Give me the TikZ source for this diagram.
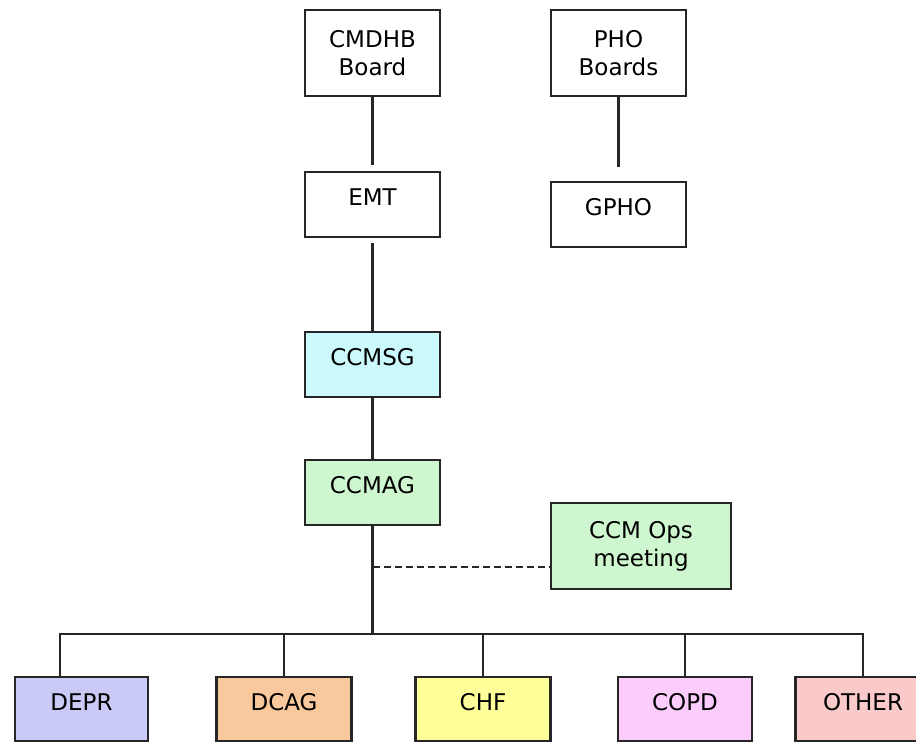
\documentclass[tikz,border=0pt]{standalone}
\usepackage{fontspec}
\setmainfont{DejaVu Sans}
\definecolor{cmsg}{HTML}{CCFAFC}
\definecolor{cmag}{HTML}{CFF7CF}
\definecolor{cdepr}{HTML}{CACAF7}
\definecolor{cdcag}{HTML}{F9C89C}
\definecolor{cchf}{HTML}{FFFF99}
\definecolor{ccopd}{HTML}{FCCCFC}
\definecolor{cother}{HTML}{FACACA}
\tikzset{
  box/.style={draw=black!85, line width=1.1pt, rectangle, inner sep=0pt,
    minimum width=67.5pt, minimum height=32.5pt, align=center,
    font=\fontsize{11.5pt}{14pt}\selectfont},
  one/.style={text height=8.4pt, text depth=7.2pt},
  tall/.style={minimum height=43pt},
  conn/.style={draw=black!85, line width=1.1pt},
}
\begin{document}
\begin{tikzpicture}[x=0.5pt,y=-0.5pt]
\useasboundingbox (0,0) rectangle (916,742);
\begin{scope}
\clip (0,0) rectangle (916,742);
% top row
\node[box,tall] (cmdhb) at (372.5,53) {CMDHB\\Board};
\node[box,tall] (pho) at (618.5,53) {PHO\\Boards};
\node[box,one] (emt) at (372.5,204.5) {EMT};
\node[box,one] (gpho) at (618.5,214.5) {GPHO};
\node[box,one,fill=cmsg] (ccmsg) at (372.5,364.5) {CCMSG};
\node[box,one,fill=cmag] (ccmag) at (372.5,492.5) {CCMAG};
\node[box,tall,minimum width=90pt,fill=cmag] (ops) at (641,546) {CCM Ops\\meeting};
% bottom row
\node[box,one,minimum width=66.5pt,minimum height=32pt,fill=cdepr] (depr) at (81.5,709) {DEPR};
\node[box,one,minimum height=32pt,fill=cdcag] (dcag) at (284,709) {DCAG};
\node[box,one,minimum height=32pt,fill=cchf] (chf) at (483,709) {CHF};
\node[box,one,minimum width=67pt,minimum height=32pt,fill=ccopd] (copd) at (685,709) {COPD};
\node[box,one,minimum height=32pt,fill=cother] (other) at (863,709) {OTHER};
% coordinates
\coordinate (cmdhbend) at (372.5,165);
\coordinate (phoend) at (618.5,167);
\coordinate (emtstart) at (372.5,243);
\coordinate (dash) at (372.5,567);
\coordinate (bus) at (372.5,634);
\coordinate (busL) at (60,634);
\coordinate (busR) at (863,634);
\coordinate (deprtop) at (60,677);
% connectors
\draw[conn] (cmdhb.south) -- (cmdhbend);
\draw[conn] (pho.south) -- (phoend);
\draw[conn] (emtstart) -- (ccmsg.north);
\draw[conn] (ccmsg.south) -- (ccmag.north);
\draw[conn] (ccmag.south) -- (bus);
\draw[conn, dash pattern=on 3.5pt off 2pt] (dash) -- (dash -| ops.west);
\draw[conn] (deprtop) -- (busL) -- (busR) -- (other.north);
\draw[conn] (dcag.north) -- (dcag.north |- bus);
\draw[conn] (chf.north) -- (chf.north |- bus);
\draw[conn] (copd.north) -- (copd.north |- bus);
\end{scope}
\end{tikzpicture}
\end{document}
